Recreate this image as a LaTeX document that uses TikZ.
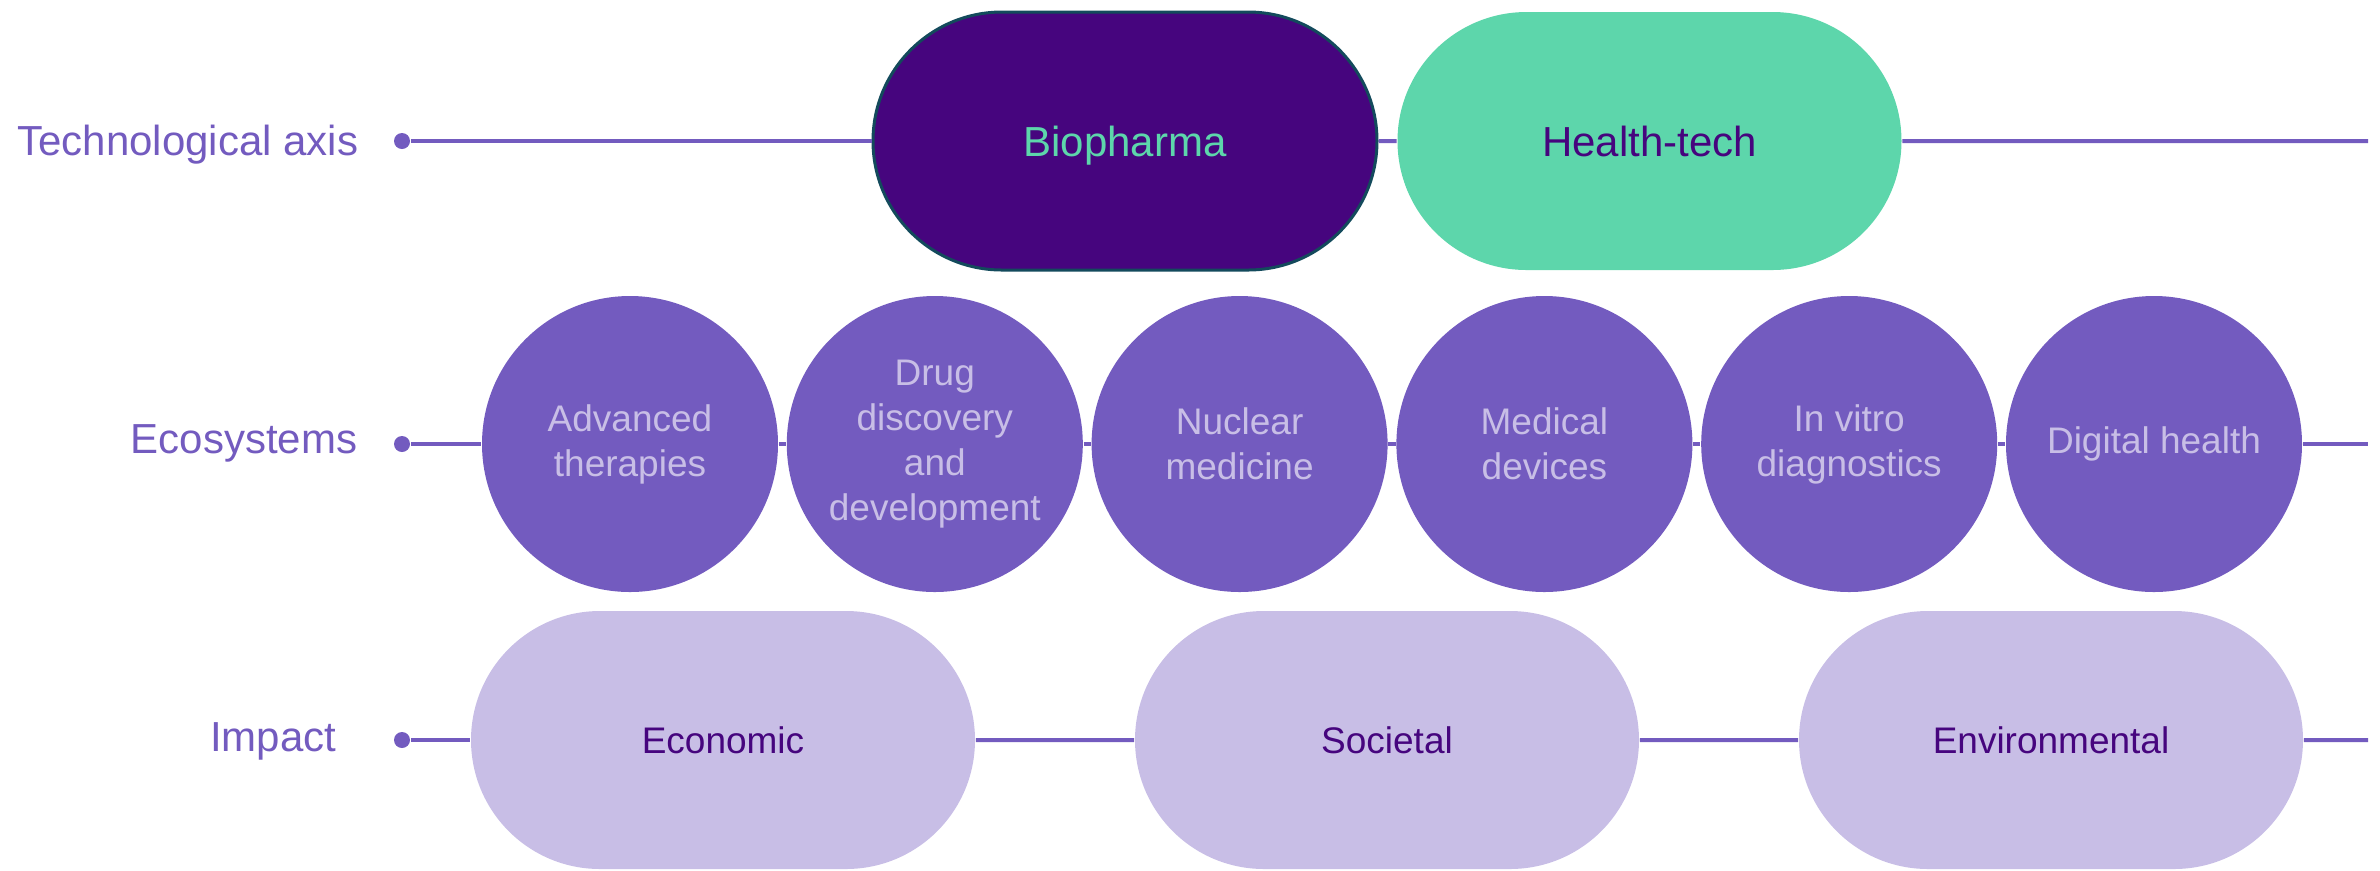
\documentclass[tikz,border=0pt]{standalone}
\usepackage{fontspec}
\setmainfont{Liberation Sans}
\usetikzlibrary{shapes.misc}
\usetikzlibrary{calc}
\usepackage{xcolor}
\definecolor{axispurple}{HTML}{735BBF}
\definecolor{deeppurple}{HTML}{46057E}
\definecolor{mintgreen}{HTML}{5DD6AB}
\definecolor{lavender}{HTML}{C8BEE6}
\definecolor{darkteal}{HTML}{134A5C}

\begin{document}
\begin{tikzpicture}[x=0.25pt, y=-0.25pt,
    rowline/.style={draw=axispurple, line width=1pt},
    rowdot/.style={circle, fill=axispurple, inner sep=0pt, minimum size=4pt},
    rowlabel/.style={text=axispurple, inner sep=0pt, anchor=base east, font=\fontsize{10.5}{12}\selectfont},
    pill/.style={rounded rectangle, inner sep=0pt, minimum width=126pt, minimum height=64.5pt, text depth=0pt},
    ecocircle/.style={circle, fill=axispurple, inner sep=0pt, minimum size=74pt, align=center, text=lavender, font=\fontsize{9.25}{11.25}\selectfont},
    impactpill/.style={pill, fill=lavender, text=deeppurple, font=\fontsize{9.25}{11.25}\selectfont}]
      \useasboundingbox (0,0) rectangle (2380,870);

      % rows
      \coordinate (techrow) at (0,141);
      \coordinate (ecorow) at (0,444);
      \coordinate (impactrow) at (0,740);
      \coordinate (ecostep) at (304.8,0);
      \coordinate (impactstep) at (664,0);

      \node [rowlabel] (techlabel) at (359,155) {Technological axis};
      \node [rowlabel] (ecolabel) at (358,453) {Ecosystems};
      \node [rowlabel] (impactlabel) at (337,751) {Impact};

      \node [rowdot] (techdot) at ($(techrow) + (402,0)$) {};
      \node [rowdot] (ecodot) at ($(ecorow) + (402,0)$) {};
      \node [rowdot] (impactdot) at ($(impactrow) + (402,0)$) {};

      \coordinate (techend) at ($(techrow) + (2368,0)$);
      \coordinate (ecoend) at ($(ecorow) + (2368,0)$);
      \coordinate (impactend) at ($(impactrow) + (2368,0)$);

      % technological axis
      \node [pill, fill=deeppurple, draw=darkteal, line width=0.75pt, text=mintgreen,
      font=\fontsize{10.5}{12}\selectfont] (biopharma) at ($(techrow) + (1125,0)$) {Biopharma};
      \node [pill, fill=mintgreen, text=deeppurple,
      font=\fontsize{10.5}{12}\selectfont] (healthtech) at ($(techrow) + (1649.5,0)$) {Health-tech};

      % ecosystems
      \coordinate (ecofirst) at ($(ecorow) + (630,0)$);
      \node [ecocircle] (advanced) at ($(ecofirst)$) {Advanced\\therapies};
      \node [ecocircle] (drug) at ($(ecofirst) + 1*(ecostep)$) {Drug\\discovery\\and\\development};
      \node [ecocircle] (nuclear) at ($(ecofirst) + 2*(ecostep)$) {Nuclear\\medicine};
      \node [ecocircle] (medical) at ($(ecofirst) + 3*(ecostep)$) {Medical\\devices};
      \node [ecocircle] (invitro) at ($(ecofirst) + 4*(ecostep)$) {In vitro\\diagnostics};
      \node [ecocircle] (digital) at ($(ecofirst) + 5*(ecostep)$) {Digital health};

      % impact
      \coordinate (impactfirst) at ($(impactrow) + (723,0)$);
      \node [impactpill] (economic) at ($(impactfirst)$) {Economic};
      \node [impactpill] (societal) at ($(impactfirst) + 1*(impactstep)$) {Societal};
      \node [impactpill] (environmental) at ($(impactfirst) + 2*(impactstep)$) {Environmental};

      % lines
      \draw [rowline] (techdot) -- (biopharma);
      \draw [rowline] (biopharma) -- (healthtech);
      \draw [rowline] (healthtech) -- (techend);

      \draw [rowline] (ecodot) -- (advanced);
      \draw [rowline] (advanced) -- (drug);
      \draw [rowline] (drug) -- (nuclear);
      \draw [rowline] (nuclear) -- (medical);
      \draw [rowline] (medical) -- (invitro);
      \draw [rowline] (invitro) -- (digital);
      \draw [rowline] (digital) -- (ecoend);

      \draw [rowline] (impactdot) -- (economic);
      \draw [rowline] (economic) -- (societal);
      \draw [rowline] (societal) -- (environmental);
      \draw [rowline] (environmental) -- (impactend);
    \end{tikzpicture}
\end{document}
